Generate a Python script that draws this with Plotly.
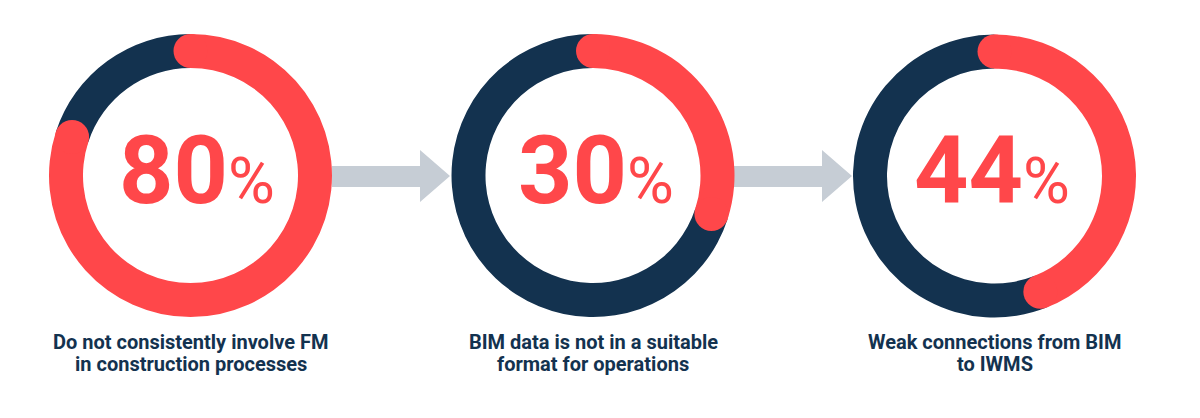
import plotly.graph_objects as go

# ---- data ----
percent_values = [80, 30, 44]
labels = [
    ["Do not consistently involve FM", "in construction processes"],
    ["BIM data is not in a suitable", "format for operations"],
    ["Weak connections from BIM", "to IWMS"],
]

# ---- style / layout ----
W, H = 1200, 418
RED = "#FF474A"
NAVY = "#13324F"
ARROW = "#C6CDD5"
centers = [(190.5, 175.5), (593.0, 175.5), (994.5, 176.0)]
number_dx = [6, 3, -3]   # small horizontal nudges of the big numbers (px)
PR = 150          # polar plot radius in px (radial units == px)
R_IN, R_OUT = 107.5, 141.5
THICK = R_OUT - R_IN
R_MID = (R_IN + R_OUT) / 2

fig = go.Figure()
layout_polars = {}

for i, (val, (cx, cy)) in enumerate(zip(percent_values, centers)):
    pid = "polar" if i == 0 else f"polar{i+1}"
    rest = 100 - val
    deg_val = val * 3.6
    deg_rest = rest * 3.6
    # navy remainder
    fig.add_trace(go.Barpolar(
        r=[THICK], base=[R_IN], theta=[deg_val + deg_rest / 2], width=[deg_rest],
        marker=dict(color=NAVY, line=dict(width=0)), subplot=pid, hoverinfo="skip"))
    # red value arc
    fig.add_trace(go.Barpolar(
        r=[THICK], base=[R_IN], theta=[deg_val / 2], width=[deg_val],
        marker=dict(color=RED, line=dict(width=0)), subplot=pid, hoverinfo="skip"))
    # rounded caps
    fig.add_trace(go.Scatterpolar(
        r=[R_MID, R_MID], theta=[0, deg_val], mode="markers",
        marker=dict(size=THICK, color=RED, line=dict(width=0)),
        subplot=pid, hoverinfo="skip"))

    layout_polars[pid] = dict(
        domain=dict(x=[(cx - PR) / W, (cx + PR) / W],
                    y=[1 - (cy + PR) / H, 1 - (cy - PR) / H]),
        bgcolor="rgba(0,0,0,0)",
        hole=0,
        radialaxis=dict(range=[0, PR], visible=False, showgrid=False),
        angularaxis=dict(rotation=90, direction="clockwise", visible=False,
                         showgrid=False),
        barmode="overlay",
    )

    # big number
    fig.add_annotation(
        x=(cx + number_dx[i]) / W, y=1 - (cy - 5.5) / H, xref="paper", yref="paper",
        xanchor="center", yanchor="middle", showarrow=False,
        text=f"<b>{val}</b><span style='font-size:64px;font-weight:400'>%</span>",
        font=dict(family="Roboto", size=95, color=RED))
    # label lines
    for j, line in enumerate(labels[i]):
        fig.add_annotation(
            x=cx / W, y=1 - (342 + 22 * j) / H, xref="paper", yref="paper",
            xanchor="center", yanchor="middle", showarrow=False, align="center",
            text=f"<b>{line}</b>",
            font=dict(family="Roboto", size=20, color=NAVY))

# arrows between donuts
arrows = [(332, 420, 450), (733, 822, 852)]
shapes = []
for x0, xb, xt in arrows:
    pts = [(x0, 166), (xb, 166), (xb, 150), (xt, 176), (xb, 202), (xb, 187), (x0, 187)]
    path = "M " + " L ".join(f"{x / W},{1 - y / H}" for x, y in pts) + " Z"
    shapes.append(dict(type="path", path=path, xref="paper", yref="paper",
                       fillcolor=ARROW, line=dict(width=0), layer="below"))

fig.update_layout(
    width=W, height=H, margin=dict(l=0, r=0, t=0, b=0),
    paper_bgcolor="white", plot_bgcolor="white", showlegend=False,
    shapes=shapes, **layout_polars)

fig.write_html("out.html", config={"displayModeBar": False},
               post_script="document.body.style.margin='0px';")
